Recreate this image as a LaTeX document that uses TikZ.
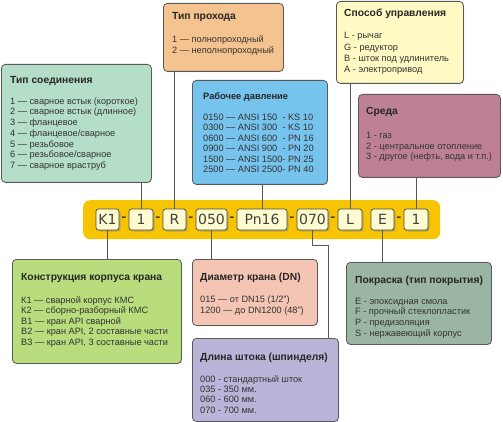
\documentclass[tikz,border=0pt]{standalone}
\usepackage{fontspec}
\setmainfont{Liberation Sans}
\newfontfamily\codefont{DejaVu Sans}
\usetikzlibrary{shadows}
\newcommand\mylines[1]{\begin{tabular}[t]{@{}l@{}}#1\end{tabular}}
\definecolor{connC}{HTML}{B5DEC8}
\definecolor{passC}{HTML}{F5C38F}
\definecolor{pressC}{HTML}{76C3EE}
\definecolor{ctrlC}{HTML}{FFF9C3}
\definecolor{envC}{HTML}{BD8097}
\definecolor{bodyC}{HTML}{B9DC7D}
\definecolor{diamC}{HTML}{F5C5B3}
\definecolor{stemC}{HTML}{BBB4D8}
\definecolor{paintC}{HTML}{9AB5A1}
\definecolor{barC}{HTML}{F6C400}
\definecolor{codeC}{HTML}{FFFBD0}
\tikzset{
  infobox/.style={draw=black!65, line width=0.8pt, rounded corners=4pt, anchor=north west, inner sep=0pt,
    drop shadow={shadow xshift=0.8pt, shadow yshift=-0.8pt, opacity=0.3}},
  ttl/.style={anchor=base west, inner sep=0pt, font=\bfseries\fontsize{10.3}{12}\selectfont, text=black!85},
  bodytxt/.style={anchor=base west, inner sep=0pt, font=\fontsize{9.2}{10.7}\selectfont, text=black!80},
  codebox/.style={draw=black!70, line width=0.7pt, fill=codeC, rounded corners=2.5pt, minimum height=21pt, inner sep=0pt,
    font=\codefont\fontsize{14}{16}\selectfont, text=black!75,
    drop shadow={shadow xshift=1.5pt, shadow yshift=-1.5pt, opacity=0.45}},
  sepdash/.style={inner sep=0pt, font=\codefont\fontsize{14}{16}\selectfont, text=black},
  wire/.style={draw=black!65, line width=1pt}
}
\begin{document}
\begin{tikzpicture}[x=1pt,y=-1pt]
\useasboundingbox (0,0) rectangle (503,422);
% bar
\node[fill=barC, rounded corners=7pt, minimum width=357pt, minimum height=39pt, inner sep=0pt, anchor=north west] (bar) at (83,200) {};
% code boxes
\node[codebox, minimum width=23pt] (k1) at (107.5,219.5) {K1};
\node[codebox, minimum width=24pt] (one) at (141,219.5) {1};
\node[codebox, minimum width=23pt] (r) at (174.5,219.5) {R};
\node[codebox, minimum width=31pt] (n050) at (211.5,219.5) {050};
\node[codebox, minimum width=50pt] (pn) at (262,219.5) {Pn16};
\node[codebox, minimum width=31pt] (n070) at (312.5,219.5) {070};
\node[codebox, minimum width=24pt] (l) at (350,219.5) {L};
\node[codebox, minimum width=23pt] (e) at (382.5,219.5) {E};
\node[codebox, minimum width=24pt] (onex) at (416,219.5) {1};
\node[sepdash] (d1) at (124,219) {-};
\node[sepdash] (d2) at (158,219) {-};
\node[sepdash] (d3) at (191,219) {-};
\node[sepdash] (d4) at (232,219) {-};
\node[sepdash] (d5) at (292,219) {-};
\node[sepdash] (d6) at (333,219) {-};
\node[sepdash] (d7) at (399,219) {-};
% info boxes
\node[infobox, fill=connC, minimum width=150pt, minimum height=118pt] (conn) at (1,64) {};
\node[infobox, fill=passC, minimum width=120pt, minimum height=68pt] (pass) at (163,3) {};
\node[infobox, fill=pressC, minimum width=135pt, minimum height=104pt] (press) at (192,80) {};
\node[infobox, fill=ctrlC, minimum width=127pt, minimum height=82pt] (ctrl) at (336,1) {};
\node[infobox, fill=envC, minimum width=142pt, minimum height=83pt] (env) at (358,94) {};
\node[infobox, fill=bodyC, minimum width=169pt, minimum height=104pt] (body) at (12,259) {};
\node[infobox, fill=diamC, minimum width=125pt, minimum height=66pt] (diam) at (192,259) {};
\node[infobox, fill=stemC, minimum width=146pt, minimum height=83pt] (stem) at (192,338) {};
\node[infobox, fill=paintC, minimum width=145pt, minimum height=82pt] (paint) at (346,262) {};
% connectors
\draw[wire] (one.north) -- (one.north |- conn.south);
\draw[wire] (r.north) -- (r.north |- pass.south);
\draw[wire] (pn.north) -- (pn.north |- press.south);
\draw[wire] (l.north) -- (l.north |- ctrl.south);
\draw[wire] (onex.north) -- (onex.north |- env.south);
\draw[wire] (k1.south) -- (k1.south |- body.north);
\draw[wire] (n050.south) -- (n050.south |- diam.north);
\draw[wire] (n070.south) -- ++(0,15) -| ([xshift=-10pt]stem.north east);
\draw[wire] (e.south) -- (e.south |- paint.north);
% texts
\node[ttl] (connT) at (10,84) {Тип соединения};
\node[bodytxt] (connB) at (10,104.3) {\mylines{1 — сварное встык (короткое)\\2 — сварное встык (длинное)\\3 — фланцевое\\4 — фланцевое/сварное\\5 — резьбовое\\6 — резьбовое/сварное\\7 — сварное враструб}};
\node[ttl] (passT) at (172,19.5) {Тип прохода};
\node[bodytxt, font=\fontsize{9.2}{11}\selectfont] (passB) at (172,42.3) {\mylines{1 — полнопроходный\\2 — неполнопроходный}};
\node[ttl, font=\bfseries\fontsize{9.3}{11}\selectfont] (pressT) at (203,99.5) {Рабочее давление};
\node[bodytxt, font=\fontsize{9.2}{10.4}\selectfont] (pressB) at (203,120.6) {\mylines{0150 — ANSI 150\ \ - KS 10\\0300 — ANSI 300\ \ - KS 10\\0600 — ANSI 600\ \ - PN 16\\0900 — ANSI 900\ \ - PN 20\\1500 — ANSI 1500- PN 25\\2500 — ANSI 2500- PN 40}};
\node[ttl] (ctrlT) at (344,16.5) {Способ управления};
\node[bodytxt, font=\fontsize{9.2}{11.1}\selectfont] (ctrlB) at (344,39) {\mylines{L - рычаг\\G - редуктор\\B - шток под удлинитель\\A - электропривод}};
\node[ttl] (envT) at (366,115) {Среда};
\node[bodytxt, font=\fontsize{9.2}{10.85}\selectfont] (envB) at (366,138.3) {\mylines{1 - газ\\2 - центральное отопление\\3 - другое (нефть, вода и т.п.)}};
\node[ttl] (bodyT) at (21,280.5) {Конструкция корпуса крана};
\node[bodytxt, font=\fontsize{9.2}{10.5}\selectfont] (bodyB) at (21,303.3) {\mylines{К1 — сварной корпус КМС\\К2 — сборно-разборный КМС\\В1 — кран API сварной\\В2 — кран API, 2 составные части\\В3 — кран API, 3 составные части}};
\node[ttl] (diamT) at (200,280) {Диаметр крана (DN)};
\node[bodytxt] (diamB) at (200,302.6) {\mylines{015 — от DN15 (1/2”)\\1200 — до DN1200 (48”)}};
\node[ttl] (stemT) at (200,360) {Длина штока (шпинделя)};
\node[bodytxt, font=\fontsize{9.2}{10.4}\selectfont] (stemB) at (200,382) {\mylines{000 - стандартный шток\\035 - 350 мм.\\060 - 600 мм.\\070 - 700 мм.}};
\node[ttl] (paintT) at (355,283) {Покраска (тип покрытия)};
\node[bodytxt] (paintB) at (355,304) {\mylines{E - эпоксидная смола\\F - прочный стеклопластик\\P - предизоляция\\S - нержавеющий корпус}};
\end{tikzpicture}
\end{document}
